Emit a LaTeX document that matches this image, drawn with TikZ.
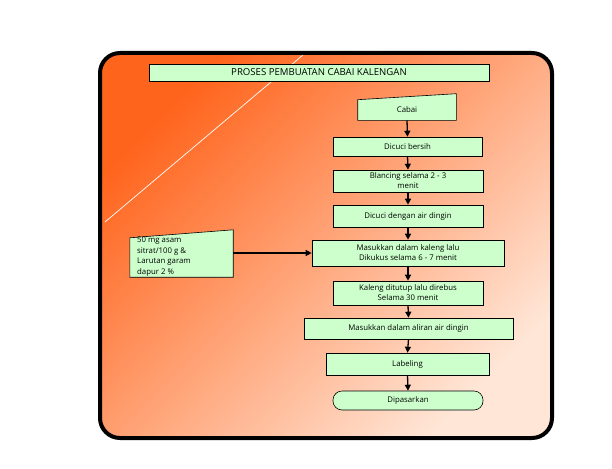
\documentclass[tikz,border=0pt]{standalone}
\usepackage{fontspec}
\setmainfont{Open Sans}
\usetikzlibrary{arrows.meta}

\definecolor{boxgreen}{RGB}{204,255,204}
\definecolor{bgdark}{RGB}{255,100,28}
\definecolor{bgmid}{RGB}{255,160,120}
\definecolor{bglight}{RGB}{255,230,215}

\tikzset{
  stepbox/.style={draw, fill=boxgreen, line width=.6pt, inner sep=1pt, align=center,
    font=\fontsize{7.8}{10}\selectfont},
  flow/.style={-{Triangle[length=6pt,width=6pt]}, line width=1.3pt},
}

\begin{document}
\begin{tikzpicture}[x=1pt,y=-1pt]
\useasboundingbox (0,0) rectangle (612,468);

% background panel
\shade[rounded corners=20pt, top color=bgdark, middle color=bgmid, bottom color=bglight, shading angle=45]
  (100,53) rectangle (552,438);
\draw[white, line width=.7pt] (303,55) -- (105,222);
\draw[line width=4pt, rounded corners=20pt] (100,53) rectangle (552,438);

% title
\node[stepbox, minimum width=340pt, minimum height=17pt, font=\fontsize{9.6}{11}\selectfont]
  (title) at (319,72.5) {PROSES PEMBUATAN CABAI KALENGAN};

% input with slanted top
\node[stepbox, draw=none, fill=none, minimum width=98pt, minimum height=20pt] (cabai) at (407,110) {Cabai};
\filldraw[fill=boxgreen, line width=.6pt] (cabai.south west) -- (cabai.south east)
  -- ([yshift=6pt]cabai.north east) -- (cabai.north west) -- cycle;
\node[stepbox, draw=none, fill=none] at (cabai) {Cabai};

% process steps
\node[stepbox, minimum width=149pt, minimum height=19pt] (cuci) at (407.5,146.5) {Dicuci bersih};
\node[stepbox, minimum width=150pt, minimum height=22pt] (blanch) at (408,181) {Blancing selama 2 - 3\\menit};
\node[stepbox, minimum width=150pt, minimum height=22pt] (dingin) at (408,216) {Dicuci dengan air dingin};
\node[stepbox, minimum width=192pt, minimum height=26pt] (kaleng) at (408,253) {Masukkan dalam kaleng lalu\\Dikukus selama 6 - 7 menit};
\node[stepbox, minimum width=150pt, minimum height=24pt] (rebus) at (408,293) {Kaleng ditutup lalu direbus\\Selama 30 menit};
\node[stepbox, minimum width=209pt, minimum height=21pt] (aliran) at (408.5,328.5) {Masukkan dalam aliran air dingin};
\node[stepbox, minimum width=163pt, minimum height=22pt] (label) at (407.5,364) {Labeling};
\node[stepbox, minimum width=150pt, minimum height=19pt, rounded corners=9pt] (pasar) at (408,400.5) {Dipasarkan};

% side input
\node[minimum width=103pt, minimum height=39pt, inner sep=0pt] (bahan) at (181.5,257.5) {};
\filldraw[fill=boxgreen, line width=.6pt] (bahan.south west) -- (bahan.south east)
  -- ([yshift=8pt]bahan.north east) -- (bahan.north west) -- cycle;
\node[anchor=north west, inner sep=0pt, align=left, font=\fontsize{7.8}{10.4}\selectfont]
  (bahantext) at (137,237) {50 mg asam\\sitrat/100 g \&\\Larutan garam\\dapur 2 \%};

% connectors
\draw[flow] (cabai.south) -- (cuci.north);
\draw[flow] (cuci.south) -- (blanch.north);
\draw[flow] (blanch.south) -- (dingin.north);
\draw[flow] (dingin.south) -- (kaleng.north);
\draw[flow] (kaleng.south) -- (rebus.north);
\draw[flow] (rebus.south) -- (aliran.north);
\draw[flow] (aliran.south) -- (label.north);
\draw[flow] (label.south) -- (pasar.north);
\draw[flow] (kaleng.west -| bahan.east) -- (kaleng.west);

\end{tikzpicture}
\end{document}
